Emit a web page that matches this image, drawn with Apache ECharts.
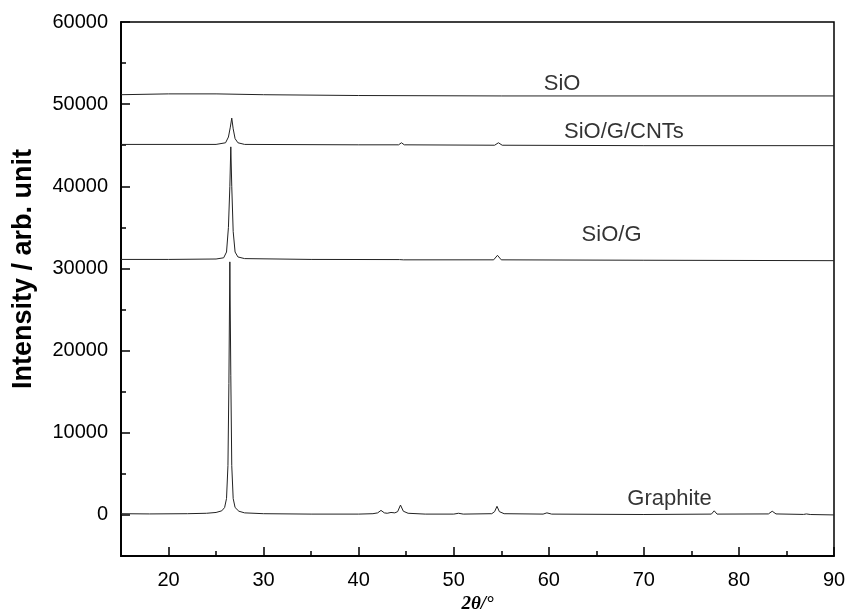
<!DOCTYPE html>
<html>
<head>
<meta charset="utf-8">
<script src="https://cdn.jsdelivr.net/npm/echarts@6/dist/echarts.min.js"></script>
<style>
  html, body { margin: 0; padding: 0; background: #fff; }
  #chart { width: 848px; height: 611px; }
</style>
</head>
<body>
<div id="chart"></div>
<script>
// 2theta (deg) / intensity pairs
const graphiteX = [15, 18, 22, 24, 25, 25.6, 25.9, 26.1, 26.25, 26.35, 26.45, 26.55, 26.65, 26.8, 27, 27.4, 28, 30, 35, 40, 41.5, 42.0, 42.35, 42.7, 43.0, 43.4, 43.8, 44.1, 44.4, 44.7, 45.2, 47, 50, 50.5, 51, 54, 54.3, 54.55, 54.8, 55.3, 59.4, 59.8, 60.3, 70, 77.1, 77.4, 77.7, 83.1, 83.5, 83.9, 86.8, 87.1, 87.5, 90]
const graphiteY = [150, 120, 150, 200, 300, 500, 900, 2000, 6000, 16000, 30800, 17000, 6000, 2000, 900, 450, 250, 150, 100, 100, 150, 250, 550, 250, 200, 300, 250, 400, 1200, 450, 200, 100, 100, 200, 100, 150, 400, 1050, 400, 150, 100, 250, 100, 50, 100, 500, 100, 120, 450, 120, 60, 120, 50, 0]

const sioGX = [15, 20, 25, 25.8, 26.1, 26.3, 26.45, 26.55, 26.65, 26.8, 27, 27.3, 28, 35, 44.3, 44.5, 44.7, 54.2, 54.6, 55, 70, 90]
const sioGY = [31100, 31100, 31150, 31300, 32000, 35000, 40000, 44800, 40000, 34500, 32000, 31400, 31200, 31100, 31080, 31200, 31050, 31050, 31600, 31050, 31000, 30950]

const cntX = [15, 25, 26.0, 26.3, 26.5, 26.65, 26.8, 27, 27.3, 28, 40, 44.2, 44.5, 44.8, 54.3, 54.7, 55.1, 70, 90]
const cntY = [45100, 45100, 45300, 46000, 47200, 48300, 47000, 45800, 45300, 45100, 45050, 45050, 45300, 45050, 45000, 45300, 45000, 44950, 44950]

const sioX = [15, 20, 25, 30, 40, 55, 90]
const sioY = [51150, 51250, 51250, 51150, 51050, 51000, 51000]

const labelNames = ['SiO', 'SiO/G/CNTs', 'SiO/G', 'Graphite']
const labelX = [61.4, 67.9, 66.6, 72.7]
const labelY = [52450, 46600, 34100, 2000]

const xMajor = [20, 30, 40, 50, 60, 70, 80, 90]
const xMinor = [25, 35, 45, 55, 65, 75, 85]
const yMajor = [0, 10000, 20000, 30000, 40000, 50000, 60000]
const yMinor = [-5000, 5000, 15000, 25000, 35000, 45000, 55000]

function pairs(xs, ys) {
  return xs.map((x, i) => [x, ys[i]])
}

const chart = echarts.init(document.getElementById('chart'))
const font = 'Liberation Sans, Arial, sans-serif'
const lineStyle = { color: '#222', width: 1 }

const baseX = {
  type: 'value', min: 15, max: 90, interval: 5,
  axisLine: { show: true, onZero: false, lineStyle: { color: '#000', width: 1.5 } },
  splitLine: { show: false }
}
const baseY = {
  type: 'value', min: -5000, max: 60000, interval: 5000,
  axisLine: { show: true, onZero: false, lineStyle: { color: '#000', width: 1.5 } },
  splitLine: { show: false }
}

const option = {
  backgroundColor: '#fff',
  animation: false,
  grid: {
    left: 121, right: 14, top: 22, bottom: 55,
    outerBoundsMode: 'none',
    show: true, borderColor: '#000', borderWidth: 1.5
  },
  xAxis: [
    Object.assign({}, baseX, {
      name: '2θ/°',
      nameLocation: 'middle',
      nameGap: 38,
      nameTextStyle: { fontFamily: 'Liberation Serif, serif', fontStyle: 'italic', fontWeight: 'bold', fontSize: 19, color: '#000' },
      axisTick: { inside: true, length: 9, customValues: xMajor, lineStyle: { color: '#000', width: 1.5 } },
      axisLabel: { customValues: xMajor, color: '#000', fontSize: 20, fontFamily: font, margin: 14, formatter: v => String(v) }
    }),
    Object.assign({}, baseX, {
      position: 'bottom',
      axisTick: { inside: true, length: 5, customValues: xMinor, lineStyle: { color: '#000', width: 1.5 } },
      axisLabel: { show: false }
    })
  ],
  yAxis: [
    Object.assign({}, baseY, {
      name: 'Intensity / arb. unit',
      nameLocation: 'middle',
      nameGap: 84,
      nameTextStyle: { fontFamily: font, fontWeight: 'bold', fontSize: 27, color: '#000', padding: [0, 0, 0, 40] },
      axisTick: { inside: true, length: 9, customValues: yMajor, lineStyle: { color: '#000', width: 1.5 } },
      axisLabel: { customValues: yMajor, color: '#000', fontSize: 20, fontFamily: font, margin: 13, formatter: v => String(v) }
    }),
    Object.assign({}, baseY, {
      position: 'left',
      axisTick: { inside: true, length: 5, customValues: yMinor, lineStyle: { color: '#000', width: 1.5 } },
      axisLabel: { show: false }
    })
  ],
  series: [
    { name: 'Graphite', type: 'line', data: pairs(graphiteX, graphiteY), showSymbol: false, lineStyle: lineStyle },
    { name: 'SiO/G', type: 'line', data: pairs(sioGX, sioGY), showSymbol: false, lineStyle: lineStyle },
    { name: 'SiO/G/CNTs', type: 'line', data: pairs(cntX, cntY), showSymbol: false, lineStyle: lineStyle },
    { name: 'SiO', type: 'line', data: pairs(sioX, sioY), showSymbol: false, lineStyle: lineStyle },
    {
      type: 'scatter',
      symbolSize: 0,
      data: labelX.map((x, i) => [x, labelY[i], labelNames[i]]),
      label: {
        show: true, position: 'inside',
        formatter: p => p.data[2],
        color: '#000', fontSize: 22, fontFamily: font
      }
    }
  ]
}
chart.setOption(option)
</script>
</body>
</html>
